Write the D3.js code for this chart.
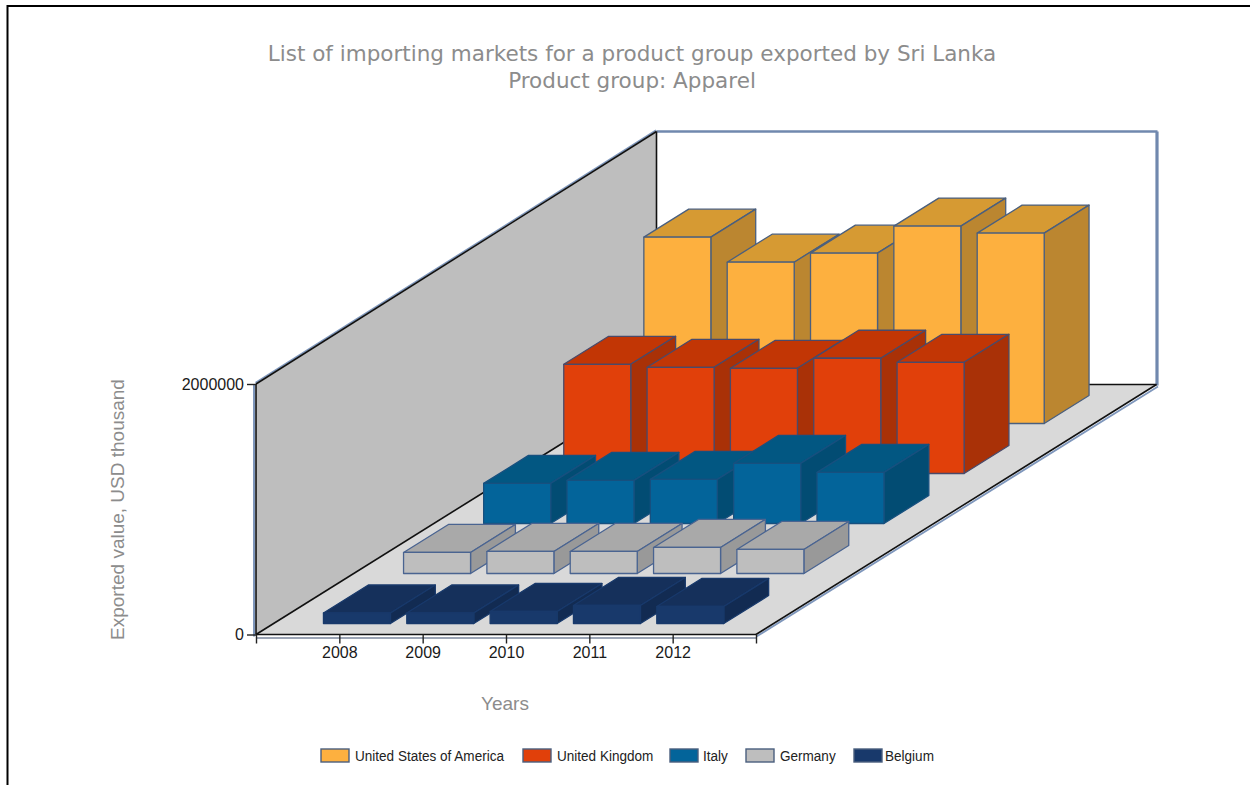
<!DOCTYPE html>
<html>
<head>
<meta charset="utf-8">
<script src="https://cdn.jsdelivr.net/npm/d3@7/dist/d3.min.js"></script>
<style>
html,body{margin:0;padding:0;background:#fff}
svg{display:block}
</style>
</head>
<body>
<div id="chart"></div>
<script>
// Exported value per market, USD thousand
const years = [2008, 2009, 2010, 2011, 2012];
const markets = ["United States of America", "United Kingdom", "Italy", "Germany", "Belgium"];
const usa = [1488000, 1288000, 1360000, 1576000, 1520000];
const uk = [872000, 848000, 840000, 920000, 888000];
const italy = [320000, 344000, 352000, 480000, 408000];
const germany = [168000, 176000, 176000, 208000, 192000];
const belgium = [84000, 84000, 96000, 144000, 136000];
const seriesValues = [usa, uk, italy, germany, belgium];

const frontFaces = ["#FDB03F", "#E1400A", "#03649A", "#BEBEBE", "#18396B"];
const topFaces = ["#D69A33", "#C23605", "#025782", "#A9A9A9", "#15305B"];
const sideFaces = ["#BB8630", "#A93107", "#024C73", "#999999", "#122B52"];
const edgeColors = ["#4A5F7E", "#4A4A6A", "#17507F", "#4A6491", "#18396B"];
const legendSwatchX = [321, 523, 670, 746, 854];
const legendTextX = [355, 557, 703, 780, 885];

const W = 1250, H = 785;
const svg = d3.select("#chart").append("svg").attr("width", W).attr("height", H);
const sans = "'Liberation Sans', Arial, sans-serif";
const wide = "'DejaVu Sans', Verdana, sans-serif";

// Oblique projection: x and value on the front plane, depth slides up and to the right
const x = d3.scaleLinear().domain([2007, 2013]).range([256, 756]);
const y = d3.scaleLinear().domain([0, 2000000]).range([634.5, 384]);
const depthX = d3.scaleLinear().domain([0, 5]).range([0, 400.5]);
const depthY = d3.scaleLinear().domain([0, 5]).range([0, -250]);
const project = (px, value, z) => [px + depthX(z), y(value) + depthY(z)];
const poly = pts => pts.map(p => p.join(",")).join(" ");

const xMin = x.range()[0], xMax = x.range()[1], yMax = y.domain()[1];
const wallTopLift = 2.5;
const corner = (px, value, z, lift = 0) => {
  const p = project(px, value, z);
  return [p[0], p[1] - lift];
};

// Outer frame
svg.append("path").attr("d", `M7.5,${H} V6 H${W}`).attr("fill", "none").attr("stroke", "#000").attr("stroke-width", 2);

// Chart walls and floor
const plot = svg.append("g");
plot.append("polygon")
  .attr("points", poly([corner(xMin, yMax, 0), corner(xMin, yMax, 5, wallTopLift), corner(xMin, 0, 5), corner(xMin, 0, 0)]))
  .attr("fill", "#BEBEBE");
plot.append("polygon")
  .attr("points", poly([corner(xMin, 0, 0), corner(xMax, 0, 0), corner(xMax, 0, 5), corner(xMin, 0, 5)]))
  .attr("fill", "#D9D9D9");

// Blue-grey outer rim of the walls and floor
const rimLines = [
  [[xMin - 2, yMax, 0], [xMin - 2, 0, 0, -2], "#7F97BC", 2],
  [[xMin - 0.5, yMax, 0, 1.2], [xMin - 0.5, yMax, 5, wallTopLift + 1.2], "#7F97BC", 1.6],
  [[xMin, yMax, 5, wallTopLift], [xMax + 1, yMax, 5, wallTopLift], "#7088AE", 2.4],
  [[xMax + 0.5, 0, 5, -1], [xMax + 0.5, yMax, 5, wallTopLift], "#7088AE", 3.2],
  [[xMin, 0, 0, -3.5], [xMax, 0, 0, -3.5], "#7A869C", 1.5],
  [[xMax + 0.5, 0, 0, -2], [xMax + 1.5, 0, 5, -2], "#7F97BC", 1.8]
];
plot.selectAll(".rim").data(rimLines).join("line").attr("class", "rim")
  .attr("x1", d => corner(...d[0])[0]).attr("y1", d => corner(...d[0])[1])
  .attr("x2", d => corner(...d[1])[0]).attr("y2", d => corner(...d[1])[1])
  .attr("stroke", d => d[2]).attr("stroke-width", d => d[3]);

// Black inner edges
const darkLines = [
  [[xMin, yMax, 0], [xMin, 0, 0]],
  [[xMin, yMax, 0], [xMin, yMax, 5, wallTopLift]],
  [[xMin, yMax, 5, wallTopLift], [xMin, 0, 5]],
  [[xMin, 0, 0], [xMin, 0, 5]],
  [[xMin, 0, 5], [xMax, 0, 5]],
  [[xMin, 0, 0], [xMax, 0, 0]],
  [[xMax, 0, 0], [xMax, 0, 5]]
];
plot.selectAll(".edge").data(darkLines).join("line").attr("class", "edge")
  .attr("x1", d => corner(...d[0])[0]).attr("y1", d => corner(...d[0])[1])
  .attr("x2", d => corner(...d[1])[0]).attr("y2", d => corner(...d[1])[1])
  .attr("stroke", "#111").attr("stroke-width", 1.6);

// Axes
const xAxis = d3.axisBottom(x).tickValues(d3.range(2007, 2014)).tickSize(9).tickPadding(3)
  .tickFormat(d => years.includes(d) ? String(d) : "");
const yAxis = d3.axisLeft(y).tickValues([0, 2000000]).tickSize(9).tickPadding(3).tickFormat(d3.format("d"));
const gx = svg.append("g").attr("transform", `translate(0,${y(0)})`).call(xAxis);
const gy = svg.append("g").attr("transform", `translate(${xMin},0)`).call(yAxis);
[gx, gy].forEach(g => {
  g.select(".domain").remove();
  g.selectAll("line").attr("stroke", "#222").attr("stroke-width", 1.4);
  g.selectAll("text").attr("font-family", sans).attr("font-size", 16).attr("fill", "#1a1a1a");
});

// Bars: back row first, left to right inside a row
const barWidth = 67, barInset = 0.22, barDepth = 0.56, barXShift = 33.5;
const bars = svg.append("g");
markets.forEach((market, s) => {
  const row = markets.length - 1 - s + barInset;
  const values = seriesValues[s];
  const g = bars.append("g").attr("class", "series");
  years.forEach((year, i) => {
    const left = x(year) - barXShift;
    const right = left + barWidth;
    const v = values[i];
    const z0 = row, z1 = row + barDepth;
    const faces = [
      [topFaces[s], [project(left, v, z0), project(right, v, z0), project(right, v, z1), project(left, v, z1)]],
      [sideFaces[s], [project(right, 0, z0), project(right, v, z0), project(right, v, z1), project(right, 0, z1)]],
      [frontFaces[s], [project(left, 0, z0), project(right, 0, z0), project(right, v, z0), project(left, v, z0)]]
    ];
    g.selectAll(null).data(faces).join("polygon")
      .attr("points", d => poly(d[1]))
      .attr("fill", d => d[0])
      .attr("stroke", edgeColors[s]).attr("stroke-width", 1.3).attr("stroke-linejoin", "round");
  });
});

// Titles
const title = svg.append("text").attr("text-anchor", "middle").attr("font-family", wide)
  .attr("font-size", 21.5).attr("fill", "#8C8C8C");
title.append("tspan").attr("x", 632).attr("y", 61).text("List of importing markets for a product group exported by Sri Lanka");
title.append("tspan").attr("x", 632).attr("y", 88).text("Product group: Apparel");

svg.append("text").attr("x", 505).attr("y", 710).attr("text-anchor", "middle")
  .attr("font-family", sans).attr("font-size", 19).attr("fill", "#8C8C8C").text("Years");
svg.append("text").attr("transform", "translate(124,509.5) rotate(-90)").attr("text-anchor", "middle")
  .attr("font-family", sans).attr("font-size", 19).attr("fill", "#8C8C8C").text("Exported value, USD thousand");

// Legend
const legend = svg.append("g").selectAll("g").data(markets).join("g");
legend.append("rect")
  .attr("x", (d, i) => legendSwatchX[i]).attr("y", 749).attr("width", 28).attr("height", 13)
  .attr("fill", (d, i) => frontFaces[i]).attr("stroke", "#4A5F7E").attr("stroke-width", 1.4);
legend.append("text")
  .attr("transform", (d, i) => `translate(${legendTextX[i]},761) scale(0.935,1)`)
  .attr("font-family", sans).attr("font-size", 14.5).attr("fill", "#222").text(d => d);
</script>
</body>
</html>
